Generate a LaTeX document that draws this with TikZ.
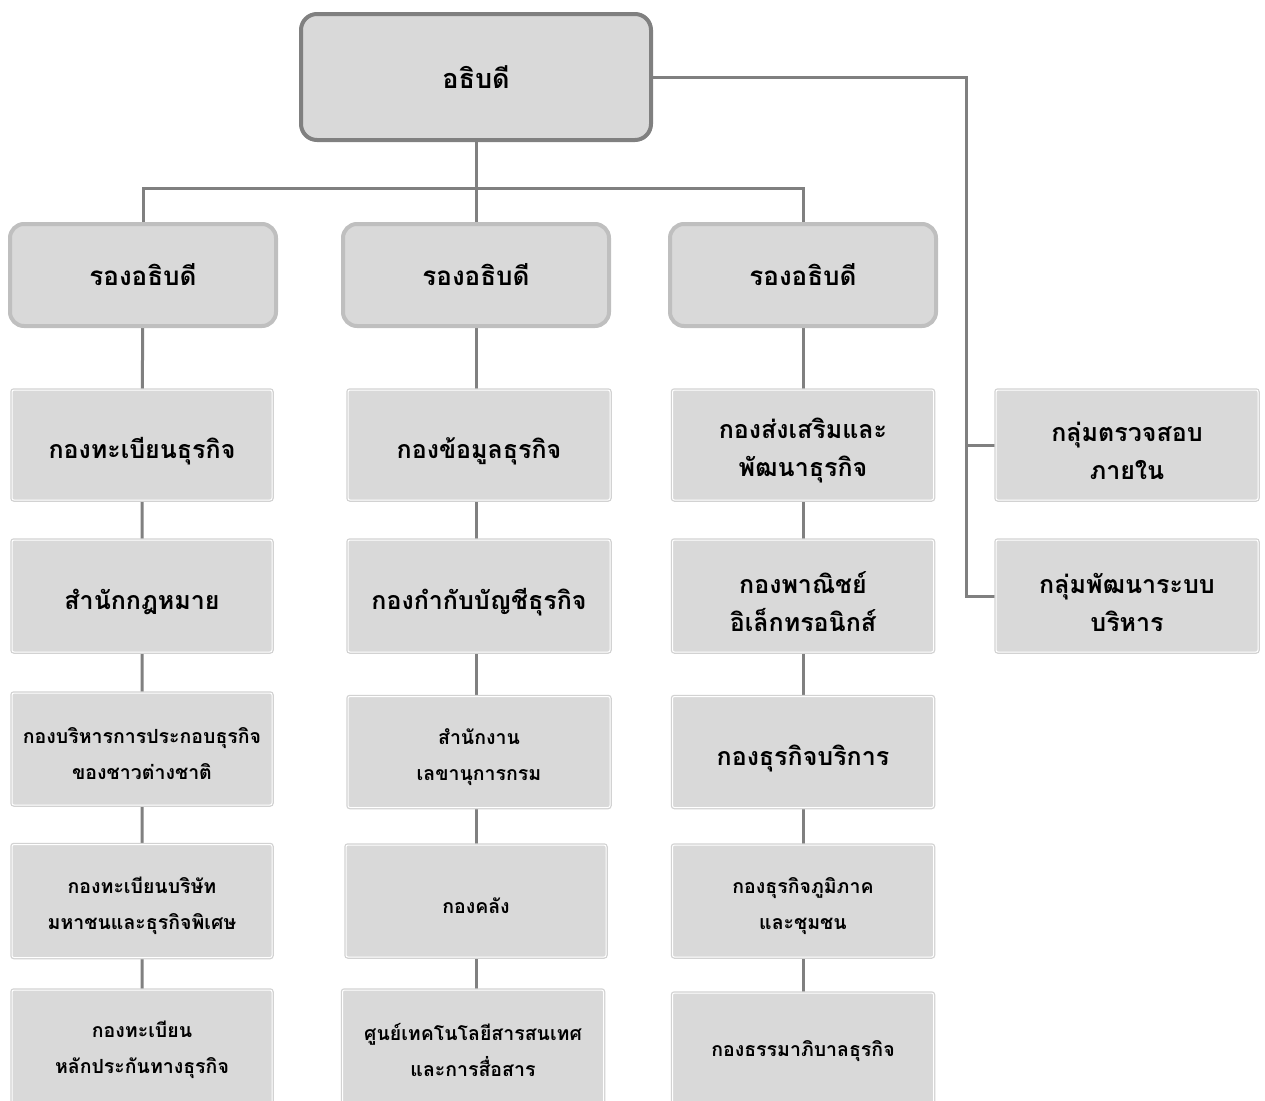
\documentclass[tikz,border=0pt]{standalone}
\usepackage{fontspec}
\newfontfamily\thaifont[Script=Thai]{Loma}
\usetikzlibrary{backgrounds}
\definecolor{boxfill}{HTML}{D9D9D9}
\definecolor{linegray}{HTML}{808080}
\definecolor{depborder}{HTML}{BFBFBF}
\definecolor{unitborder}{HTML}{D2D2D2}
\tikzset{
  topbox/.style={draw=linegray, line width=4pt, fill=boxfill, rounded corners=16pt,
    minimum width=350pt, minimum height=126pt, font=\thaifont\bfseries\fontsize{27}{30}\selectfont},
  depbox/.style={draw=depborder, line width=4pt, fill=boxfill, rounded corners=14pt,
    minimum width=266pt, minimum height=102pt, font=\thaifont\bfseries\fontsize{26}{30}\selectfont},
  unitbox/.style={preaction={draw=unitborder, line width=3.5pt, rounded corners=2pt},
    draw=white, line width=1pt, fill=boxfill, rounded corners=2pt,
    minimum width=260pt, minimum height=110pt, inner sep=0pt},
  medtext/.style={font=\thaifont\bfseries\fontsize{25}{38}\selectfont, align=center, yshift=-6pt},
  smalltext/.style={font=\thaifont\bfseries\fontsize{19.5}{36}\selectfont, align=center, yshift=-5pt},
  conn/.style={draw=linegray, line width=3pt}
}
\begin{document}
\begin{tikzpicture}[x=1pt,y=-1pt]
\useasboundingbox (0,0) rectangle (1265,1100);
% top
\node[topbox] (top) at (476,77) {อธิบดี};
% deputies
\node[depbox] (d1) at (143,275) {รองอธิบดี};
\node[depbox] (d2) at (476,275) {รองอธิบดี};
\node[depbox] (d3) at (803,275) {รองอธิบดี};
% column 1
\node[unitbox,label={[medtext]center:กองทะเบียนธุรกิจ}] (c11) at (142,445) {};
\node[unitbox,minimum height=112pt,label={[medtext]center:สำนักกฎหมาย}] (c12) at (142,596) {};
\node[unitbox,minimum height=112pt,label={[smalltext]center:{กองบริหารการประกอบธุรกิจ\\ของชาวต่างชาติ}}] (c13) at (142,749) {};
\node[unitbox,minimum height=113pt,label={[smalltext]center:{กองทะเบียนบริษัท\\มหาชนและธุรกิจพิเศษ}}] (c14) at (142,901) {};
\node[unitbox,minimum height=116pt,label={[smalltext,yshift=3pt]center:{กองทะเบียน\\หลักประกันทางธุรกิจ}}] (c15) at (142,1048) {};
% column 2
\node[unitbox,minimum width=262pt,label={[medtext]center:กองข้อมูลธุรกิจ}] (c21) at (479,445) {};
\node[unitbox,minimum width=262pt,minimum height=112pt,label={[medtext]center:กองกำกับบัญชีธุรกิจ}] (c22) at (479,596) {};
\node[unitbox,minimum width=262pt,minimum height=111pt,label={[smalltext]center:{สำนักงาน\\เลขานุการกรม}}] (c23) at (479,752) {};
\node[unitbox,minimum height=112pt,label={[smalltext]center:กองคลัง}] (c24) at (476,901) {};
\node[unitbox,minimum width=261pt,minimum height=116pt,label={[smalltext,yshift=3pt]center:{ศูนย์เทคโนโลยีสารสนเทศ\\และการสื่อสาร}}] (c25) at (473,1048) {};
% column 3
\node[unitbox,minimum width=261pt,label={[medtext]center:{กองส่งเสริมและ\\พัฒนาธุรกิจ}}] (c31) at (803,445) {};
\node[unitbox,minimum width=261pt,minimum height=112pt,label={[medtext]center:{กองพาณิชย์\\อิเล็กทรอนิกส์}}] (c32) at (803,596) {};
\node[unitbox,minimum width=261pt,minimum height=111pt,label={[medtext]center:กองธุรกิจบริการ}] (c33) at (803,752) {};
\node[unitbox,minimum width=261pt,minimum height=112pt,label={[smalltext]center:{กองธุรกิจภูมิภาค\\และชุมชน}}] (c34) at (803,901) {};
\node[unitbox,minimum width=261pt,minimum height=112pt,label={[smalltext,yshift=3pt]center:กองธรรมาภิบาลธุรกิจ}] (c35) at (803,1049) {};
% right groups
\node[unitbox,minimum width=262pt,label={[medtext]center:{กลุ่มตรวจสอบ\\ภายใน}}] (g1) at (1127,445) {};
\node[unitbox,minimum width=262pt,minimum height=112pt,label={[medtext]center:{กลุ่มพัฒนาระบบ\\บริหาร}}] (g2) at (1127,596) {};
% connectors
\coordinate (busL) at (142,188);
\coordinate (busR) at (803,188);
\coordinate (rv) at (966,77);
\begin{pgfonlayer}{background}
\draw[conn] (top) -- (d2);
\draw[conn] (d1) -- (d1 |- busL) -- (busR) -- (d3);
\draw[conn] (top) -- (rv) -- (rv |- g2) -- (g2);
\draw[conn] (rv |- g1) -- (g1);
\draw[conn] (d1) -- (c11) -- (c12) -- (c13) -- (c14) -- (c15);
\draw[conn] (d2) -- (d2 |- c25.north);
\draw[conn] (d3) -- (c31) -- (c32) -- (c33) -- (c34) -- (c35);
\end{pgfonlayer}
\end{tikzpicture}
\end{document}
